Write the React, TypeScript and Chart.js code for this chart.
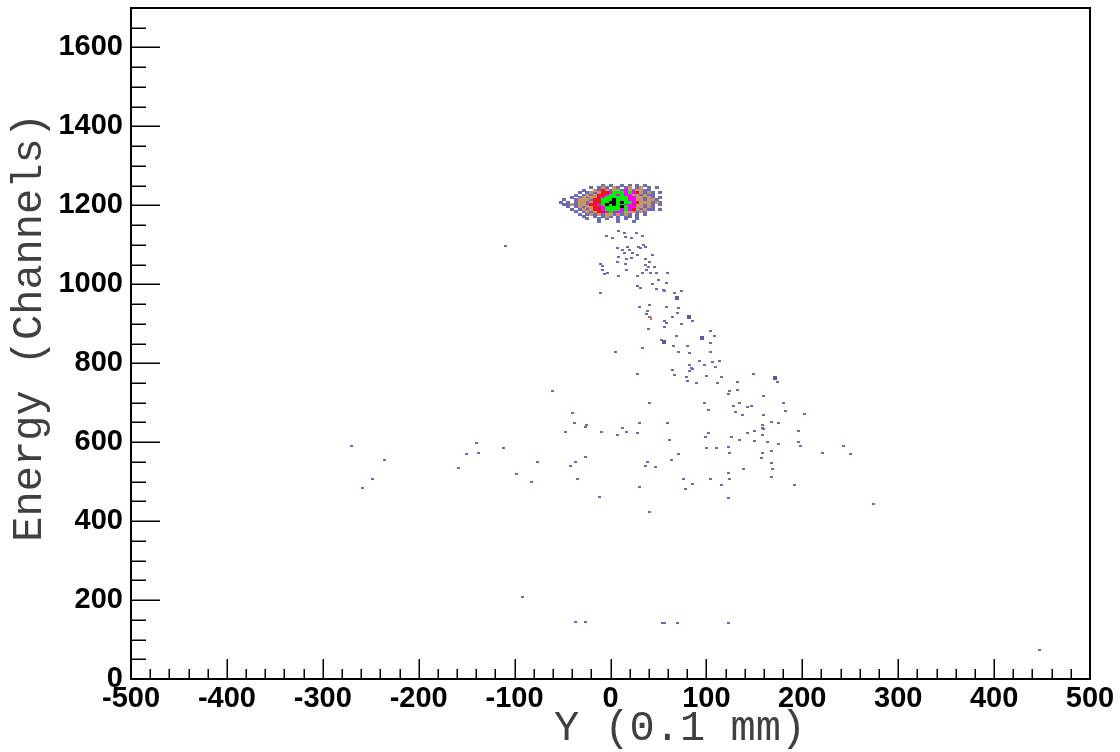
import React, { useEffect, useRef } from 'react';
import { Chart, registerables } from 'chart.js';

Chart.register(...registerables);

// ---------------- data ----------------
const X_MIN = -500;
const X_MAX = 500;
const Y_MIN = 0;
const Y_MAX = 1700;
const X_TICKS = [-500, -400, -300, -200, -100, 0, 100, 200, 300, 400, 500];
const Y_TICKS = [0, 200, 400, 600, 800, 1000, 1200, 1400, 1600];
const X_MINOR_STEP = 20;
const Y_MINOR_STEP = 50;
const X_TITLE = 'Y (0.1 mm)';
const Y_TITLE = 'Energy (Channels)';

// isolated single-count bins
const HIT_X = [
  -4, 2, 8, 15, 16, 22, 27, 33, 7, 13,
  15, 18, 20, 23, 29, 31, 34, 37, 8, 17,
  22, 28, 36, 41, 44, -10, -8, 7, 16, 37,
  40, 46, -8, -3, -6, 8, 17, 28, 33, 38,
  42, 48, 59, 50, 58, 28, 31, 44, 48, 55,
  56, 67, 74, -10, 71, 58, 41, 30, 39, 38,
  41, 70, 65, 86, 56, 58, 56, 74, 40, 104,
  108, 69, 80, 66, 53, 33, 104, 5, 71, 82,
  104, 93, 98, 106, 110, 114, 82, 84, 86, 82,
  65, 67, 79, 80, 90, 100, 112, 116, 28, -60,
  132, 132, 124, 123, 134, 128, 130, 41, 98, 102,
  -40, -38, -25, -26, 30, 59, 13, 149, 160, 180,
  182, 143, 147, 160, 138, 174, 202, -9, 17, 28,
  7, 62, 102, 99, 126, 134, 143, 150, 158, 159,
  160, 168, 175, 158, 150, 164, 175, 196, 196, 198,
  100, 111, 123, 124, 158, 168, 157, 168, 169, 168,
  221, 243, 250, -26, 71, 64, 39, 36, 47, 139,
  123, 124, 104, 76, 86, 78, 116, 30, -11, 123,
  192, 274, -270, -236, -248, -259, -140, -150, -138, -158,
  -112, -98, -82, -76, -47, -36, -42, -34, 41, -92,
  -36, -26, 54, 56, 70, 123, 447, -109,
];
const HIT_Y = [
  1123, 1118, 1136, 1131, 1121, 1118, 1131, 1123, 1093, 1088,
  1080, 1095, 1088, 1080, 1095, 1093, 1100, 1095, 1070, 1065,
  1067, 1075, 1065, 1057, 1075, 1052, 1047, 1057, 1052, 1050,
  1045, 1045, 1037, 1029, 1027, 1022, 1037, 1022, 1029, 1037,
  1029, 1029, 1029, 1012, 1004, 996, 991, 1002, 989, 986,
  984, 979, 984, 979, 941, 943, 948, 943, 933, 925,
  918, 928, 918, 908, 908, 903, 892, 900, 887, 882,
  870, 870, 844, 844, 860, 839, 852, 829, 829, 827,
  829, 806, 796, 804, 791, 806, 796, 789, 786, 781,
  783, 771, 766, 756, 751, 768, 751, 766, 773, 730,
  753, 733, 730, 723, 700, 692, 677, 700, 700, 682,
  674, 649, 644, 639, 649, 649, 636, 773, 718, 700,
  680, 690, 692, 669, 669, 753, 672, 626, 626, 624,
  619, 606, 624, 614, 614, 606, 624, 629, 644, 636,
  634, 652, 649, 619, 603, 601, 596, 629, 601, 591,
  586, 586, 588, 573, 573, 578, 560, 548, 532, 512,
  573, 591, 570, 563, 570, 555, 550, 540, 538, 532,
  522, 507, 507, 507, 494, 482, 492, 487, 461, 459,
  492, 444, 591, 555, 507, 484, 598, 570, 573, 535,
  586, 520, 499, 550, 626, 550, 540, 507, 423, 208,
  145, 145, 142, 142, 142, 142, 74, 1098,
];

// bins with two or more counts outside the core
const DENSE_X = [69, 82, 95, 56, 172];
const DENSE_Y = [966, 918, 865, 854, 763];

// a single warm-coloured bin on the trail
const WARM_X = [42];
const WARM_Y = [913];

// core cluster: one string per row, one char per 4-unit column
// '.' low, 'o' low-mid, 'r' mid, 'm' mid-high, 'g' high, 'k' peak
const CLUSTER_X0 = -52;
const CLUSTER_DX = 4;
const CLUSTER_ROW_Y = [1250, 1244, 1238, 1232, 1226, 1220, 1214, 1208, 1202, 1196, 1190, 1184, 1178, 1172, 1166, 1160];
const CLUSTER_ROWS = [
  '           . .  . . . .   ',
  '        . .o. o. .o .o . .',
  '      .  o.ro.oo.mo.oo..  ',
  '     . .o.orrmgggmgmro.o. .',
  '    . .o.orrmggmgmmoo.o.. ',
  '   . .o.oormggggggmmoo.o. .',
  ' .  .ooo.rrgggkgggmmoo.oo.',
  '. . .oo.orrggkkgkggmrooo.o.',
  ' ..o.oo.rrmgkgkggmmroo.o. .',
  '  . .o.oorrmggggkgmmoo.o. ',
  '   . .o.orrmggggmgmro.o.. .',
  '    . .o.orrmgmm.ooo.o.    ',
  '     . .o.o.oo.o.o. . .   ',
  '      .  . .o. . .. .     ',
  '       .  . .  . .  .     ',
  '          .    .   .      ',
];

// ---------------- styling ----------------
const LEVELS = ['k', 'g', 'm', 'r', 'o', '.'];
const LEVEL_COLORS: Record<string, string> = {
  '.': '#6c6cb4',
  o: '#c89468',
  r: '#e8141e',
  m: '#ff00ff',
  g: '#00f000',
  k: '#000000',
};

function makeCell(color: string, w: number, h: number) {
  const c = document.createElement('canvas');
  c.width = w;
  c.height = h;
  const g = c.getContext('2d')!;
  g.fillStyle = color;
  g.fillRect(0, 0, w, h);
  return c;
}

function clusterPoints(level: string) {
  const pts: { x: number; y: number }[] = [];
  CLUSTER_ROWS.forEach((row, r) => {
    for (let i = 0; i < row.length; i++) {
      if (row[i] === level) pts.push({ x: CLUSTER_X0 + i * CLUSTER_DX, y: CLUSTER_ROW_Y[r] });
    }
  });
  return pts;
}

const framePlugin = {
  id: 'rootFrame',
  afterDatasetsDraw(chart: any) {
    const { ctx, chartArea: a, scales } = chart;
    const xs = scales.x;
    const ys = scales.y;
    ctx.save();
    ctx.strokeStyle = '#000';
    ctx.lineWidth = 1.5;
    ctx.beginPath();
    for (let v = X_MIN; v <= X_MAX; v += X_MINOR_STEP) {
      const px = Math.round(xs.getPixelForValue(v)) + 0.25;
      const len = X_TICKS.includes(v) ? 20 : 10;
      ctx.moveTo(px, a.bottom);
      ctx.lineTo(px, a.bottom - len);
    }
    for (let v = Y_MIN; v <= Y_MAX; v += Y_MINOR_STEP) {
      const py = Math.round(ys.getPixelForValue(v)) + 0.25;
      const len = Y_TICKS.includes(v) ? 29 : 15;
      ctx.moveTo(a.left, py);
      ctx.lineTo(a.left + len, py);
    }
    ctx.stroke();
    ctx.lineWidth = 2;
    ctx.strokeRect(a.left, a.top, a.right - a.left, a.bottom - a.top);

    // axis titles
    ctx.fillStyle = '#404040';
    ctx.font = '42px "Liberation Mono", "DejaVu Sans Mono", monospace';
    ctx.textAlign = 'center';
    ctx.textBaseline = 'alphabetic';
    ctx.fillText(X_TITLE, a.left + 0.5725 * (a.right - a.left), a.bottom + 61);
    ctx.save();
    ctx.translate(a.left - 90, a.top + 0.476 * (a.bottom - a.top));
    ctx.rotate(-Math.PI / 2);
    ctx.fillText(Y_TITLE, 0, 0);
    ctx.restore();
    ctx.restore();
  },
};

export default function App() {
  const ref = useRef<HTMLCanvasElement>(null);

  useEffect(() => {
    const clusterCell: Record<string, HTMLCanvasElement> = {};
    LEVELS.forEach((l) => (clusterCell[l] = makeCell(LEVEL_COLORS[l], 4, 3)));
    const hitCell = makeCell('#6c6cb4', 3, 2);
    const denseCell = makeCell('#5a5aa8', 4, 4);
    const warmCell = makeCell('#e07030', 2, 3);

    const datasets: any[] = LEVELS.map((l) => ({
      label: 'level ' + l,
      data: clusterPoints(l),
      pointStyle: clusterCell[l],
      pointRadius: 2,
      showLine: false,
    }));
    datasets.push({
      label: 'warm',
      data: WARM_X.map((x, i) => ({ x, y: WARM_Y[i] })),
      pointStyle: warmCell,
      pointRadius: 2,
      showLine: false,
    });
    datasets.push({
      label: 'dense',
      data: DENSE_X.map((x, i) => ({ x, y: DENSE_Y[i] })),
      pointStyle: denseCell,
      pointRadius: 2,
      showLine: false,
    });
    datasets.push({
      label: 'hits',
      data: HIT_X.map((x, i) => ({ x, y: HIT_Y[i] })),
      pointStyle: hitCell,
      pointRadius: 2,
      showLine: false,
    });

    const tickFont = { family: '"Liberation Sans", Arial, sans-serif', size: 29, weight: 'bold' as const };

    const chart = new Chart(ref.current!, {
      type: 'scatter',
      data: { datasets },
      options: {
        animation: false,
        responsive: true,
        maintainAspectRatio: false,
        events: [],
        layout: { padding: { top: 8, right: 30, left: 0, bottom: 0 }, autoPadding: false },
        plugins: { legend: { display: false }, tooltip: { enabled: false } },
        scales: {
          x: {
            type: 'linear',
            min: X_MIN,
            max: X_MAX,
            afterBuildTicks: (s: any) => {
              s.ticks = X_TICKS.map((v) => ({ value: v }));
            },
            afterFit: (s: any) => {
              s.height = 73;
              s.paddingLeft = 0;
              s.paddingRight = 0;
            },
            grid: { display: false, drawTicks: false },
            border: { display: false },
            ticks: {
              font: tickFont,
              color: '#000',
              padding: 3,
              maxRotation: 0,
              autoSkip: false,
              callback: (v: any) => String(v),
            },
          },
          y: {
            type: 'linear',
            min: Y_MIN,
            max: Y_MAX,
            afterBuildTicks: (s: any) => {
              s.ticks = Y_TICKS.map((v) => ({ value: v }));
            },
            afterFit: (s: any) => {
              s.width = 131;
              s.paddingTop = 0;
              s.paddingBottom = 0;
            },
            grid: { display: false, drawTicks: false },
            border: { display: false },
            ticks: {
              font: tickFont,
              color: '#000',
              padding: 8,
              autoSkip: false,
              callback: (v: any) => String(v),
            },
          },
        },
      },
      plugins: [framePlugin],
    });
    return () => chart.destroy();
  }, []);

  return (
    <div style={{ position: 'fixed', left: 0, top: 0, width: 1120, height: 752, background: '#fff' }}>
      <canvas ref={ref} />
    </div>
  );
}
